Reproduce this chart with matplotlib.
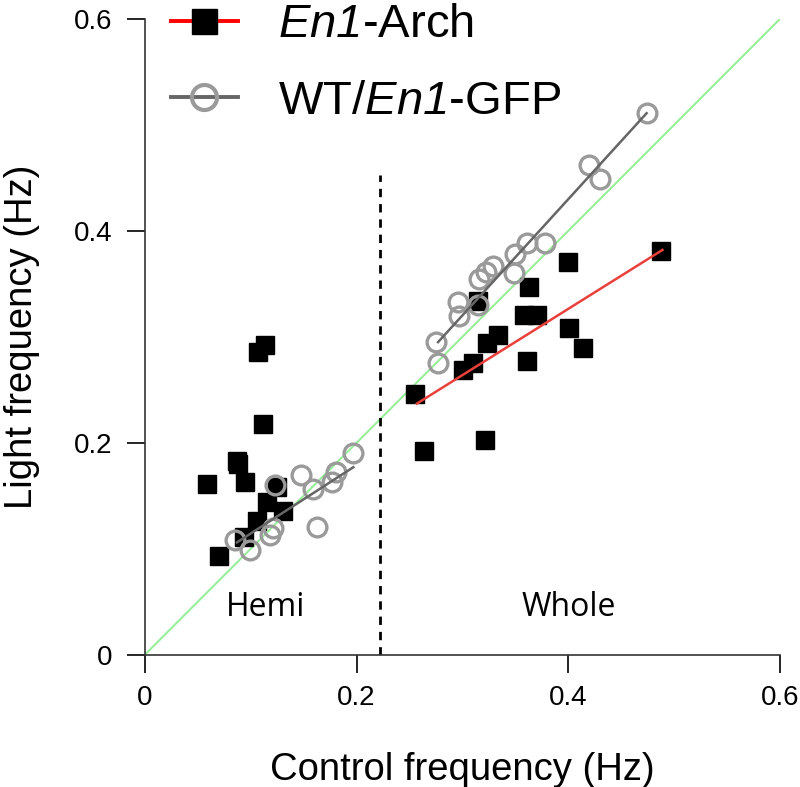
import numpy as np
import matplotlib.pyplot as plt

plt.rcParams['mathtext.fontset'] = 'custom'
plt.rcParams['mathtext.rm'] = 'Liberation Sans'
plt.rcParams['mathtext.sf'] = 'Liberation Sans:italic'
plt.rcParams['mathtext.it'] = 'Liberation Sans:italic'

# En1-Arch (black squares)
arch_x = [0.059, 0.070, 0.087, 0.088, 0.095, 0.094, 0.106, 0.107, 0.112, 0.114, 0.115, 0.125, 0.131,
          0.255, 0.264, 0.301, 0.310, 0.315, 0.323, 0.334, 0.321, 0.358, 0.370, 0.363, 0.361,
          0.400, 0.401, 0.414, 0.488]
arch_y = [0.161, 0.093, 0.183, 0.180, 0.163, 0.111, 0.126, 0.286, 0.218, 0.292, 0.144, 0.158, 0.136,
          0.246, 0.192, 0.269, 0.275, 0.334, 0.294, 0.302, 0.203, 0.321, 0.321, 0.347, 0.277,
          0.371, 0.308, 0.289, 0.381]

# WT/En1-GFP (grey circles)
gfp_x = [0.085, 0.099, 0.118, 0.121, 0.123, 0.148, 0.159, 0.163, 0.177, 0.181, 0.197,
         0.275, 0.277, 0.296, 0.297, 0.316, 0.315, 0.322, 0.329, 0.350, 0.349, 0.361, 0.378,
         0.420, 0.430, 0.474]
gfp_y = [0.108, 0.099, 0.113, 0.120, 0.160, 0.170, 0.156, 0.121, 0.163, 0.172, 0.190,
         0.295, 0.275, 0.333, 0.320, 0.355, 0.330, 0.361, 0.367, 0.378, 0.360, 0.389, 0.389,
         0.462, 0.449, 0.511]

# regression lines (endpoints)
gfp_hemi_fit_x = [0.087, 0.197]
gfp_hemi_fit_y = [0.106, 0.177]
gfp_whole_fit_x = [0.277, 0.474]
gfp_whole_fit_y = [0.295, 0.511]
arch_whole_fit_x = [0.257, 0.489]
arch_whole_fit_y = [0.237, 0.382]

unity = [0, 0.6]
split_x = 0.222
ticks = [0, 0.2, 0.4, 0.6]
tick_labels = ['0', '0.2', '0.4', '0.6']

fig = plt.figure(figsize=(8, 7.87), dpi=100)
ax = fig.add_axes([0.181, 0.168, 0.794, 0.808])

ax.plot(unity, unity, color='#98ee98', lw=1.5, zorder=1)
ax.plot([split_x, split_x], [0, 0.453], color='black', ls=(0, (3, 2.5)), lw=2, zorder=1)

ax.plot(arch_x, arch_y, ls='none', marker='s', ms=13, color='black', zorder=3)
ax.plot(gfp_x, gfp_y, ls='none', marker='o', ms=13.5, mfc='none', mec='#9a9a9a', mew=2.4, zorder=4)

ax.plot(gfp_hemi_fit_x, gfp_hemi_fit_y, color='#666666', lw=1.8, zorder=5)
ax.plot(gfp_whole_fit_x, gfp_whole_fit_y, color='#666666', lw=1.8, zorder=5)
ax.plot(arch_whole_fit_x, arch_whole_fit_y, color='#e8403a', lw=1.8, zorder=5)

# legend handles
h1, = ax.plot([], [], color='#ff0000', lw=2.8, marker='s', ms=18, mfc='black', mec='black')
h2, = ax.plot([], [], color='#666666', lw=2.8, marker='o', ms=18, mfc='none', mec='#9a9a9a', mew=3)
leg = fig.legend([h1, h2], [r'$\mathsf{En1}$-Arch', r'WT/$\mathsf{En1}$-GFP'],
                 loc='upper left', bbox_to_anchor=(0.16, 1.05), frameon=False,
                 handlelength=1.43, handletextpad=0.85, labelspacing=0.69,
                 prop={'family': 'Liberation Sans', 'size': 34})

ax.text(0.114, 0.045, 'Hemi', fontsize=23, family='Open Sans', ha='center', va='center')
ax.text(0.400, 0.045, 'Whole', fontsize=23, family='Open Sans', ha='center', va='center')

ax.set_xlim(0, 0.6)
ax.set_ylim(0, 0.6)
ax.set_xticks(ticks)
ax.set_yticks(ticks)
ax.set_xticklabels(tick_labels)
ax.set_yticklabels(tick_labels)
ax.tick_params(direction='out', length=13, width=1.2, labelsize=20,
               labelfontfamily='Liberation Sans')
ax.tick_params(axis='x', pad=9)
ax.tick_params(axis='y', pad=10)
for s in ['top', 'right']:
    ax.spines[s].set_visible(False)
for s in ['left', 'bottom']:
    ax.spines[s].set_linewidth(1.2)
ax.spines['bottom'].set_color('#333333')
ax.spines['left'].set_color('#333333')

ax.set_xlabel('Control frequency (Hz)', fontsize=27.5, family='Liberation Sans')
ax.set_ylabel('Light frequency (Hz)', fontsize=27.5, family='Liberation Sans')
ax.xaxis.label.set_va('center')
ax.yaxis.label.set_va('center')
ax.xaxis.set_label_coords(0.5, -0.181)
ax.yaxis.set_label_coords(-0.194, 0.5)

fig.savefig('out.png', dpi=100)
